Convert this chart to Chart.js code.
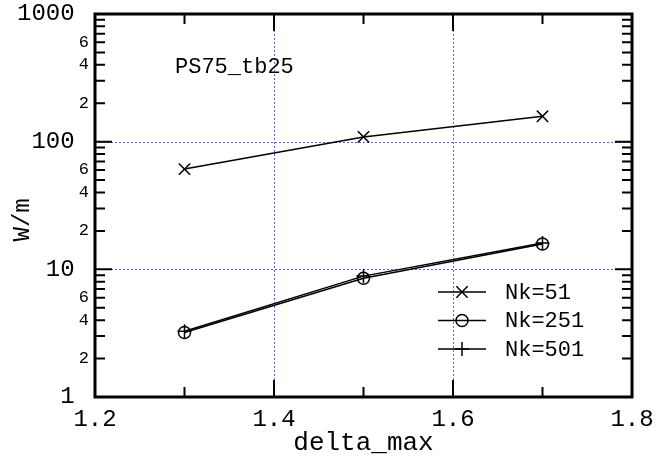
<!DOCTYPE html>
<html>
<head>
<meta charset="utf-8">
<script src="https://cdn.jsdelivr.net/npm/chart.js@4"></script>
<style>
  html, body { margin: 0; padding: 0; background: #fff; }
  canvas { display: block; }
</style>
</head>
<body>
<canvas id="my-chart" width="671" height="464"></canvas>
<script>
// values
const deltaMax = [1.3, 1.5, 1.7];
const nk51 = [61, 109, 158];
const nk251 = [3.2, 8.5, 15.8];
const nk501 = [3.27, 8.85, 16.1];
const seriesLabels = ['Nk=51', 'Nk=251', 'Nk=501'];
const noteText = 'PS75_tb25';

const xTicks = [1.2, 1.3, 1.4, 1.5, 1.6, 1.7, 1.8];
const xTickLabels = ['1.2', '', '1.4', '', '1.6', '', '1.8'];
const xGrid = [1.4, 1.6];

const yTicks = [1, 2, 3, 4, 5, 6, 7, 8, 9,
  10, 20, 30, 40, 50, 60, 70, 80, 90,
  100, 200, 300, 400, 500, 600, 700, 800, 900, 1000];
const yTickLabels = ['1', '2', '', '4', '', '6', '', '', '',
  '10', '2', '', '4', '', '6', '', '', '',
  '100', '2', '', '4', '', '6', '', '', '', '1000'];
const yMajor = [1, 10, 100, 1000];
const yGrid = [10, 100];

const MONO = "'Liberation Mono', 'DejaVu Sans Mono', monospace";

function drawMarker(ctx, style, x, y, r) {
  ctx.beginPath();
  if (style === 'crossRot') {
    const d = r * Math.SQRT1_2;
    ctx.moveTo(x - d, y - d); ctx.lineTo(x + d, y + d);
    ctx.moveTo(x - d, y + d); ctx.lineTo(x + d, y - d);
  } else if (style === 'circle') {
    ctx.arc(x, y, r, 0, Math.PI * 2);
  } else {
    ctx.moveTo(x - r, y); ctx.lineTo(x + r, y);
    ctx.moveTo(x, y - r); ctx.lineTo(x, y + r);
  }
  ctx.stroke();
}

const framePlugin = {
  id: 'frame',
  beforeDatasetsDraw(chart) {
    const { ctx, chartArea: a, scales: { x, y } } = chart;
    ctx.save();
    ctx.strokeStyle = '#5c5cff';
    ctx.lineWidth = 1;
    ctx.setLineDash([2, 2]);
    xGrid.forEach((v) => {
      const px = Math.round(x.getPixelForValue(v)) + 0.5;
      ctx.beginPath(); ctx.moveTo(px, a.top); ctx.lineTo(px, a.bottom); ctx.stroke();
    });
    yGrid.forEach((v) => {
      const py = Math.round(y.getPixelForValue(v)) + 0.5;
      ctx.beginPath(); ctx.moveTo(a.left, py); ctx.lineTo(a.right, py); ctx.stroke();
    });
    ctx.restore();
  },
  afterDatasetsDraw(chart) {
    const { ctx, chartArea: a, scales: { x, y } } = chart;
    ctx.save();
    ctx.strokeStyle = '#000';
    ctx.lineWidth = 2;
    xTicks.forEach((v, i) => {
      const px = x.getPixelForValue(v);
      const len = xTickLabels[i] ? 17 : 10;
      ctx.beginPath();
      ctx.moveTo(px, a.bottom); ctx.lineTo(px, a.bottom - len);
      ctx.moveTo(px, a.top); ctx.lineTo(px, a.top + len);
      ctx.stroke();
    });
    yTicks.forEach((v) => {
      const py = y.getPixelForValue(v);
      const len = yMajor.includes(v) ? 17 : 10;
      ctx.beginPath();
      ctx.moveTo(a.left, py); ctx.lineTo(a.left + len, py);
      ctx.moveTo(a.right, py); ctx.lineTo(a.right - len, py);
      ctx.stroke();
    });
    ctx.lineWidth = 3;
    ctx.strokeRect(a.left, a.top, a.right - a.left, a.bottom - a.top);
    ctx.restore();
  },
  afterDraw(chart) {
    const { ctx, chartArea: a } = chart;
    ctx.save();
    ctx.fillStyle = '#000';
    ctx.font = '22px ' + MONO;
    ctx.textBaseline = 'alphabetic';
    ctx.fillText(noteText, a.left + 80, a.top + 59);

    // legend, lower right inside the plot
    ctx.textBaseline = 'middle';
    chart.data.datasets.forEach((ds, i) => {
      const yy = a.bottom - 105 + i * 28.5;
      const x0 = a.right - 194;
      const x1 = a.right - 146;
      ctx.strokeStyle = '#000';
      ctx.lineWidth = 1.5;
      ctx.beginPath(); ctx.moveTo(x0, yy); ctx.lineTo(x1, yy); ctx.stroke();
      drawMarker(ctx, ds.pointStyle, (x0 + x1) / 2, yy, ds.pointRadius);
      ctx.fillText(ds.label, a.right - 127, yy + 1);
    });
    ctx.restore();
  }
};

function makeSeries(label, values, style, r) {
  return {
    label: label,
    data: values.map((v, i) => ({ x: deltaMax[i], y: v })),
    borderColor: '#000',
    borderWidth: 1.5,
    pointStyle: style,
    pointRadius: r,
    pointHoverRadius: r,
    pointBorderColor: '#000',
    pointBackgroundColor: 'rgba(0,0,0,0)',
    pointBorderWidth: 1.5,
    tension: 0
  };
}

const ctx = document.getElementById('my-chart').getContext('2d');
new Chart(ctx, {
  type: 'line',
  data: {
    datasets: [
      makeSeries(seriesLabels[0], nk51, 'crossRot', 8),
      makeSeries(seriesLabels[1], nk251, 'circle', 6),
      makeSeries(seriesLabels[2], nk501, 'cross', 7)
    ]
  },
  options: {
    responsive: false,
    animation: false,
    devicePixelRatio: 1,
    layout: { padding: { top: 14, right: 39, left: 0, bottom: 0 } },
    plugins: { legend: { display: false }, tooltip: { enabled: false } },
    scales: {
      x: {
        type: 'linear',
        min: 1.2,
        max: 1.8,
        afterBuildTicks: (s) => { s.ticks = xTicks.map((v) => ({ value: v })); },
        afterFit: (s) => { s.height = 67; s.paddingLeft = 0; s.paddingRight = 0; },
        grid: { display: false, drawTicks: false },
        border: { display: false },
        ticks: {
          autoSkip: false,
          maxRotation: 0,
          padding: 8,
          color: '#000',
          font: { family: MONO, size: 24 },
          callback: (v, i) => xTickLabels[i]
        },
        title: {
          display: true,
          text: 'delta_max',
          color: '#000',
          font: { family: MONO, size: 26 },
          padding: { top: 0, bottom: 5 }
        }
      },
      y: {
        type: 'logarithmic',
        min: 1,
        max: 1000,
        afterBuildTicks: (s) => { s.ticks = yTicks.map((v) => ({ value: v })); },
        afterFit: (s) => { s.width = 95; s.paddingTop = 0; s.paddingBottom = 0; },
        grid: { display: false, drawTicks: false },
        border: { display: false },
        ticks: {
          autoSkip: false,
          padding: 6,
          color: '#000',
          font: (c) => ({
            family: MONO,
            size: c.tick && yMajor.includes(c.tick.value) ? 24 : 17
          }),
          callback: (v, i) => yTickLabels[i] + (yMajor.includes(v) ? ' ' : '')
        },
        title: {
          display: true,
          text: 'W/m  ',
          color: '#000',
          font: { family: MONO, size: 24 },
          padding: { top: 8, bottom: 0 }
        }
      }
    }
  },
  plugins: [framePlugin]
});
</script>
</body>
</html>
